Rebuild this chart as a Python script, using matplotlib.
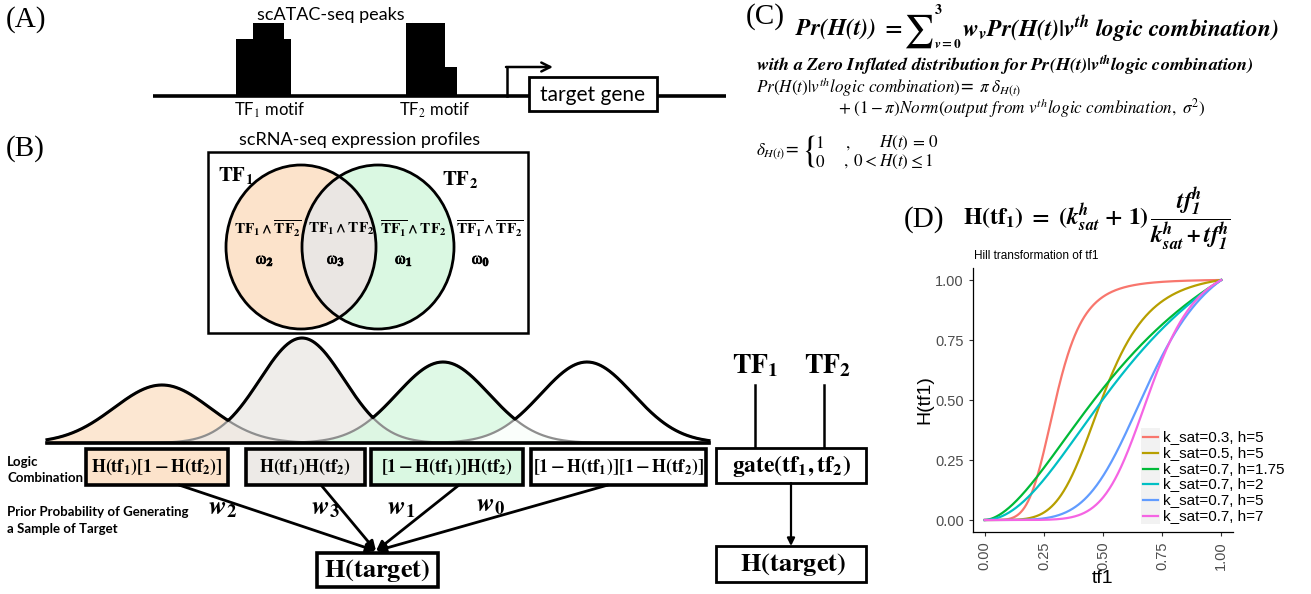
import numpy as np
import matplotlib.pyplot as plt
import matplotlib.patheffects as pe
from matplotlib.patches import Rectangle, Ellipse

plt.rcParams['mathtext.fontset'] = 'stix'

# panel D: Hill transformation parameters
k_sat = [0.3, 0.5, 0.7, 0.7, 0.7, 0.7]
hill_h = [5, 5, 1.75, 2, 5, 7]
hill_colors = ['#F8766D', '#B79F00', '#00BA38', '#00BFC4', '#619CFF', '#F564E3']
hill_ticks = [0.0, 0.25, 0.5, 0.75, 1.0]
hill_ticklabels = ['0.00', '0.25', '0.50', '0.75', '1.00']

# panel B: logic combinations of TF1 / TF2
venn_terms = [r'$\mathbf{TF_1\wedge\overline{TF_2}}$', r'$\mathbf{TF_1\wedge TF_2}$',
              r'$\mathbf{\overline{TF_1}\wedge TF_2}$',
              r'$\mathbf{\overline{TF_1}\wedge\overline{TF_2}}$']
venn_omegas = [r'$\mathrm{\omega}_\mathbf{2}$', r'$\mathrm{\omega}_\mathbf{3}$',
               r'$\mathrm{\omega}_\mathbf{1}$', r'$\mathrm{\omega}_\mathbf{0}$']
logic_terms = [r'$\mathbf{H(tf_1)[1-H(tf_2)]}$', r'$\mathbf{H(tf_1)H(tf_2)}$',
               r'$\mathbf{[1-H(tf_1)]H(tf_2)}$', r'$\mathbf{[1-H(tf_1)][1-H(tf_2)]}$']
logic_weights = [r'$\mathbfit{w}_{\mathbf{2}}$', r'$\mathbfit{w}_{\mathbf{3}}$',
                 r'$\mathbfit{w}_{\mathbf{1}}$', r'$\mathbfit{w}_{\mathbf{0}}$']
logic_colors = ['#FCE3CB', '#EDEAE7', '#DAF8E2', '#FFFFFF']

bold = [pe.withStroke(linewidth=0.6, foreground='black')]
SANS = 'Lato'
SERIF = 'Liberation Serif'

fig = plt.figure(figsize=(13.11, 5.94), dpi=100)
ax = fig.add_axes([0, 0, 1, 1])
ax.set_xlim(0, 1311)
ax.set_ylim(594, 0)
ax.axis('off')


def box(x0, x1, y0, y1, fc='white', lw=2.0):
    ax.add_patch(Rectangle((x0, y0), x1 - x0, y1 - y0, fc=fc, ec='black', lw=lw, zorder=3))


def arrow(x0, y0, x1, y1, style='-|>', lw=1.8, ms=14):
    ax.annotate('', xy=(x1, y1), xytext=(x0, y0),
                arrowprops=dict(arrowstyle=style, lw=lw, color='black',
                                mutation_scale=ms, shrinkA=0, shrinkB=0), zorder=4)


# ---------------- (A) ----------------
ax.text(6, 20, '(A)', fontsize=21, family=SERIF, va='center')
ax.text(331, 15, 'scATAC-seq peaks', fontsize=13, family=SANS, ha='center', va='center')
ax.plot([153, 726], [96, 96], color='black', lw=2.6, solid_capstyle='butt')
for (x0, x1, top) in [(236, 291, 39), (253, 284, 23), (406, 445, 23), (445, 457, 67)]:
    ax.add_patch(Rectangle((x0, top), x1 - x0, 96 - top, fc='black', ec='none'))
ax.text(270, 110, r'TF$_1$ motif', fontsize=12, family=SANS, ha='center', va='center')
ax.text(435, 110, r'TF$_2$ motif', fontsize=12, family=SANS, ha='center', va='center')
ax.plot([507, 507], [96, 67], color='black', lw=1.8)
arrow(506, 67, 553, 67, style='->', lw=1.8, ms=16)
box(529, 657, 77, 111)
ax.text(593, 95, 'target gene', fontsize=15, family=SANS, ha='center', va='center', zorder=5)

# ---------------- (B) ----------------
ax.text(6, 149, '(B)', fontsize=21, family=SERIF, va='center')
ax.text(360, 140, 'scRNA-seq expression profiles', fontsize=13, family=SANS,
        ha='center', va='center')
ax.add_patch(Rectangle((208, 152), 320, 181, fc='white', ec='black', lw=1.8))
left = Ellipse((301, 247), 150, 164, fc=logic_colors[0], ec='none')
right = Ellipse((378, 247), 152, 164, fc=logic_colors[2], ec='none')
ax.add_patch(left)
ax.add_patch(right)
mid = Ellipse((378, 247), 152, 164, fc='#EAE6E3', ec='none')
ax.add_patch(mid)
mid.set_clip_path(left)
for e in [Ellipse((301, 247), 150, 164), Ellipse((378, 247), 152, 164)]:
    e.set(fc='none', ec='black', lw=2.0)
    ax.add_patch(e)
ax.text(218, 175, r'$\mathbf{TF_1}$', fontsize=15, va='center')
ax.text(442, 180, r'$\mathbf{TF_2}$', fontsize=15, va='center')
for term, om, xc, xo in zip(venn_terms, venn_omegas, [268, 341, 413, 490], [265, 336, 404, 481]):
    ax.text(xc, 229, term, fontsize=11, ha='center', va='center')
    ax.text(xo, 259, om, fontsize=12, ha='center', va='center', path_effects=bold)

# mixture of gaussians above the logic boxes
base = 443
xs = np.linspace(47, 709, 700)
bells = [h * np.exp(-(xs - m) ** 2 / (2 * s ** 2))
         for m, h, s in zip([162, 302, 443, 587], [58, 105, 81, 81], [48, 42, 46, 46])]
for b, c in zip(bells, logic_colors):
    ax.fill_between(xs, base, base - b, color=c, alpha=0.85, lw=0)
for b in bells:
    ax.plot(xs, base - b, color='#8E8E8E', lw=1.6)
ax.plot(xs, base - np.max(bells, axis=0), color='black', lw=2.2)
ax.plot([47, 709], [base, base], color='black', lw=2.6)

# logic combination boxes and weights
box_x = [(86, 228), (246, 365), (371, 523), (531, 706)]
starts = [179, 321, 459, 608]
for (x0, x1), term, c, xs0 in zip(box_x, logic_terms, logic_colors, starts):
    arrow(xs0, 485, 376, 551, lw=2.0, ms=14)
    box(x0, x1, 449, 485, fc=c, lw=2.6)
    ax.text((x0 + x1) / 2, 467, term, fontsize=13, ha='center', va='center', zorder=5)
for w, xw, yw in zip(logic_weights, [222, 325, 401, 490], [507, 507, 507, 504]):
    ax.text(xw, yw, w, fontsize=19, ha='center', va='center')
box(317, 438, 553, 587, lw=2.6)
ax.text(377, 570, r'$\mathbf{H(target)}$', fontsize=19, ha='center', va='center', zorder=5)

for txt, yy in [('Logic', 462), ('Combination', 478),
                ('Prior Probability of Generating', 512), ('a Sample of Target', 529)]:
    ax.text(7, yy, txt, fontsize=9.5, family=SANS, weight='bold', va='center')

# gate view
ax.text(755, 365, r'$\mathbf{TF_1}$', fontsize=20, ha='center', va='center')
ax.text(828, 365, r'$\mathbf{TF_2}$', fontsize=20, ha='center', va='center')
ax.plot([755, 755], [385, 448], color='black', lw=1.8)
ax.plot([824, 824], [385, 448], color='black', lw=1.8)
box(716, 866, 448, 483)
ax.text(792, 466, r'$\mathbf{gate(tf_1,tf_2)}$', fontsize=17, ha='center', va='center', zorder=5)
arrow(791, 483, 791, 546, lw=1.6, ms=11)
box(716, 866, 546, 582)
ax.text(793, 564, r'$\mathbf{H(target)}$', fontsize=19, ha='center', va='center', zorder=5)

# ---------------- (C) ----------------
ax.text(746, 17, '(C)', fontsize=21, family=SERIF, va='center')
ax.text(795, 29, r'$\mathbfit{Pr(H(t))}\ \mathbf{=}$', fontsize=17, va='center')
ax.text(903, 31, r'$\sum$', fontsize=24, va='center')
ax.text(934, 10, r'$\mathbf{3}$', fontsize=10, va='center')
ax.text(934, 45, r'$\mathbfit{v}\mathbf{=0}$', fontsize=9.5, va='center')
ax.text(962, 29, r'$\mathbfit{w_v Pr(H(t)|v^{th}\ logic\ combination)}$', fontsize=17,
        va='center')
ax.text(756, 65, r'$\mathbfit{with\ a\ Zero\ Inflated\ distribution\ for\ Pr(H(t)|v^{th}logic\ combination)}$',
        fontsize=13.2, va='center')
ax.text(756, 87, r'$Pr(H(t)|v^{th}logic\ combination)$= $\pi\ \delta_{H(t)}$',
        fontsize=12.3, va='center')
ax.text(838, 108, r'$+\ (1-\pi)Norm(output\ from\ v^{th}logic\ combination,\ \sigma^2)$',
        fontsize=12.3, va='center')
ax.text(756, 152, r'$\delta_{H(t)}$=', fontsize=12.3, va='center')
ax.text(801, 151, r'$\{$', fontsize=26, va='center')
ax.text(815, 143, r'$1$', fontsize=12.3, va='center')
ax.text(815, 162, r'$0$', fontsize=12.3, va='center')
ax.text(845, 143, r'$,$', fontsize=12.3, va='center')
ax.text(879, 143, r'$H(t)\,=\,0$', fontsize=12.3, va='center')
ax.text(843, 162, r'$,\ 0<H(t)\leq 1$', fontsize=12.3, va='center')

# ---------------- (D) ----------------
ax.text(904, 220, '(D)', fontsize=21, family=SERIF, va='center')
ax.text(963, 219, r'$\mathbf{H(tf_1)}\ \mathbf{=}\ \mathbf{(}\mathbfit{k^h_{sat}}\ \mathbf{+\ 1)}\,'
        r'\dfrac{\mathbfit{tf^h_1}}{\mathbfit{k^h_{sat}+tf^h_1}}$',
        fontsize=17, va='center')
ax.text(974, 256, 'Hill transformation of tf1', fontsize=8.5, family='Liberation Sans',
        va='center')

axd = fig.add_axes([973 / 1311, (594 - 532) / 594, (1233 - 973) / 1311, (532 - 268) / 594])
tf1 = np.linspace(0, 1, 400)
for k, h, c in zip(k_sat, hill_h, hill_colors):
    axd.plot(tf1, (k ** h + 1) * tf1 ** h / (k ** h + tf1 ** h), color=c, lw=1.6)
axd.set_xlim(-0.05, 1.05)
axd.set_ylim(-0.05, 1.05)
axd.set_xticks(hill_ticks)
axd.set_xticklabels(hill_ticklabels, rotation=90)
axd.set_yticks(hill_ticks)
axd.set_yticklabels(hill_ticklabels)
axd.tick_params(labelsize=10.5, labelcolor='#4D4D4D', length=3, width=0.8, color='#333333')
for t in axd.get_xticklabels() + axd.get_yticklabels():
    t.set_family('Liberation Sans')
axd.spines[['top', 'right']].set_visible(False)
axd.spines[['left', 'bottom']].set_linewidth(0.9)
axd.set_xlabel('tf1', fontsize=14, family='Liberation Sans', labelpad=0)
axd.set_ylabel('H(tf1)', fontsize=14, family='Liberation Sans', labelpad=1)
axd.patch.set_alpha(0)

# legend for the Hill curves
ax.add_patch(Rectangle((1141, 428), 19, 96, fc='#F2F2F2', ec='none', zorder=5))
for i, (k, h, c) in enumerate(zip(k_sat, hill_h, hill_colors)):
    yy = 437 + 15.8 * i
    ax.plot([1143, 1158], [yy, yy], color=c, lw=1.6, zorder=6)
    ax.text(1163, yy, f'k_sat={k}, h={h}', fontsize=11, family='Liberation Sans',
            va='center', zorder=6)

fig.savefig('out.png', dpi=100)
